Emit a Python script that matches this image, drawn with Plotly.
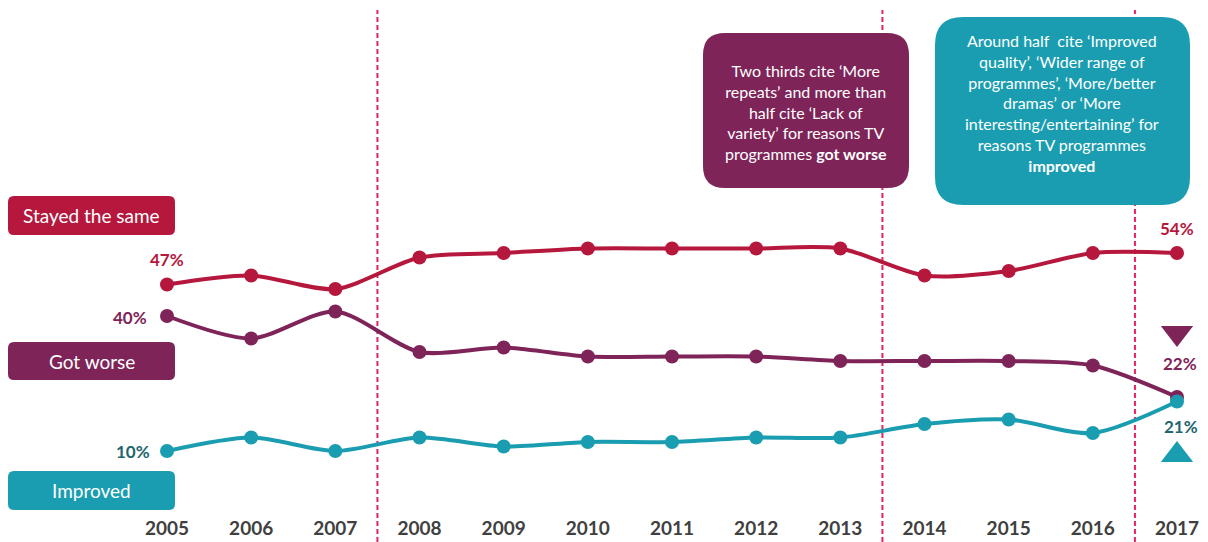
import plotly.graph_objects as go

years = [2005, 2006, 2007, 2008, 2009, 2010, 2011, 2012, 2013, 2014, 2015, 2016, 2017]
stayed_same = [47, 49, 46, 53, 54, 55, 55, 55, 55, 49, 50, 54, 54]
got_worse = [40, 35, 41, 32, 33, 31, 31, 31, 30, 30, 30, 29, 22]
improved = [10, 13, 10, 13, 11, 12, 12, 13, 13, 16, 17, 14, 21]
series_names = ["Stayed the same", "Got worse", "Improved"]
divider_years = [2007.5, 2013.5, 2016.5]
note_worse = ("Two thirds cite ‘More<br>repeats’ and more than<br>half cite ‘Lack of<br>"
              "variety’ for reasons TV<br>programmes <b>got worse</b>")
note_improved = ("Around half  cite ‘Improved<br>quality’, ‘Wider range of<br>programmes’, ‘More/better<br>"
                 "dramas’ or ‘More<br>interesting/entertaining’ for<br>reasons TV programmes<br><b>improved</b>")

RED = "#B5173D"
PURPLE = "#7E2458"
TEAL = "#1A9DB0"
DARKTEAL = "#22656D"
DASH = "#E0255F"
FONT = "Lato"

# page body has an 8px margin; work in window pixel coordinates
OFF = 8
WIN_W, WIN_H = 1208, 542
W, H = WIN_W - OFF, WIN_H - OFF
MB = 27
PLOT_H = H - MB
PX_PER_YEAR = (1177 - 167) / 12.0
X0 = 2005 - (167 - OFF) / PX_PER_YEAR
X1 = X0 + W / PX_PER_YEAR
PX_PER_PCT = 4.5
Y_BASE = 496
Y_TOP = (Y_BASE - OFF) / PX_PER_PCT
Y_BOT = (Y_BASE - (WIN_H - MB)) / PX_PER_PCT


def dx(px):
    return X0 + (px - OFF) / PX_PER_YEAR


def dy(py):
    return (Y_BASE - py) / PX_PER_PCT


def rounded_rect(x0p, y0p, x1p, y1p, r):
    rx, ry = r / PX_PER_YEAR, r / PX_PER_PCT
    a, b = dx(x0p), dx(x1p)
    top, bot = dy(y0p), dy(y1p)
    return (f"M {a+rx},{top} L {b-rx},{top} Q {b},{top} {b},{top-ry} "
            f"L {b},{bot+ry} Q {b},{bot} {b-rx},{bot} L {a+rx},{bot} "
            f"Q {a},{bot} {a},{bot+ry} L {a},{top-ry} Q {a},{top} {a+rx},{top} Z")


fig = go.Figure()
for name, vals, col in [(series_names[0], stayed_same, RED),
                        (series_names[1], got_worse, PURPLE),
                        (series_names[2], improved, TEAL)]:
    fig.add_trace(go.Scatter(
        x=years, y=vals, name=name, mode="lines+markers",
        line=dict(color=col, width=4, shape="spline", smoothing=0.8),
        marker=dict(color=col, size=14), showlegend=False, hoverinfo="skip"))

# trend triangles
fig.add_trace(go.Scatter(x=[years[-1]], y=[dy(333)], mode="markers",
                         marker=dict(symbol="triangle-down", size=28, color=PURPLE),
                         showlegend=False, hoverinfo="skip"))
fig.add_trace(go.Scatter(x=[years[-1]], y=[dy(455)], mode="markers",
                         marker=dict(symbol="triangle-up", size=28, color=TEAL),
                         showlegend=False, hoverinfo="skip"))

shapes = []
for xv in divider_years:
    shapes.append(dict(type="line", xref="x", yref="paper", x0=xv, x1=xv,
                       y0=-MB / PLOT_H, y1=1 - 2 / PLOT_H,
                       line=dict(color=DASH, width=2, dash="5px,3px"), layer="below"))

boxes = [
    (8, 196, 175, 235, 6, RED),
    (8, 342, 175, 380, 6, PURPLE),
    (8, 471, 175, 510, 6, TEAL),
    (703, 33, 909, 188, 22, PURPLE),
    (935, 17, 1190, 205, 28, TEAL),
]
for x0p, y0p, x1p, y1p, r, col in boxes:
    shapes.append(dict(type="path", xref="x", yref="y",
                       path=rounded_rect(x0p, y0p, x1p, y1p, r),
                       fillcolor=col, line=dict(width=0), layer="above"))

annotations = []
for (x0p, y0p, x1p, y1p, _, _), txt in zip(boxes[:3], series_names):
    annotations.append(dict(x=dx((x0p + x1p) / 2), y=dy((y0p + y1p) / 2), text=txt,
                            showarrow=False, xref="x", yref="y",
                            font=dict(family=FONT, size=19, color="white")))
annotations.append(dict(x=dx(806), y=dy(112), text=note_worse, showarrow=False,
                        xref="x", yref="y",
                        font=dict(family=FONT, size=16, color="white")))
annotations.append(dict(x=dx(1062), y=dy(103), text=note_improved, showarrow=False,
                        xref="x", yref="y",
                        font=dict(family=FONT, size=16, color="white")))

value_labels = [
    (years[0], stayed_same[0], 0, 259, RED),
    (years[0], got_worse[0], -37, 317, PURPLE),
    (years[0], improved[0], -34, 451, DARKTEAL),
    (years[-1], stayed_same[-1], 0, 228, RED),
    (years[-1], got_worse[-1], 3, 363, PURPLE),
    (years[-1], improved[-1], 4, 426, DARKTEAL),
]
for xv, v, xs, py, col in value_labels:
    annotations.append(dict(x=xv, y=dy(py), text=f"<b>{v}%</b>", showarrow=False,
                            xref="x", yref="y", xshift=xs, xanchor="center",
                            font=dict(family=FONT, size=17, color=col)))

fig.update_layout(
    width=W, height=H,
    margin=dict(l=0, r=0, t=0, b=MB),
    paper_bgcolor="white", plot_bgcolor="white",
    xaxis=dict(range=[X0, X1], tickvals=years, ticktext=[f"<b>{y}</b>" for y in years],
               showgrid=False, zeroline=False, showline=False, ticks="",
               tickfont=dict(family=FONT, size=19, color="#404040")),
    yaxis=dict(range=[Y_BOT, Y_TOP], visible=False, showgrid=False, zeroline=False),
    shapes=shapes, annotations=annotations,
)

fig.write_html("out.html")
